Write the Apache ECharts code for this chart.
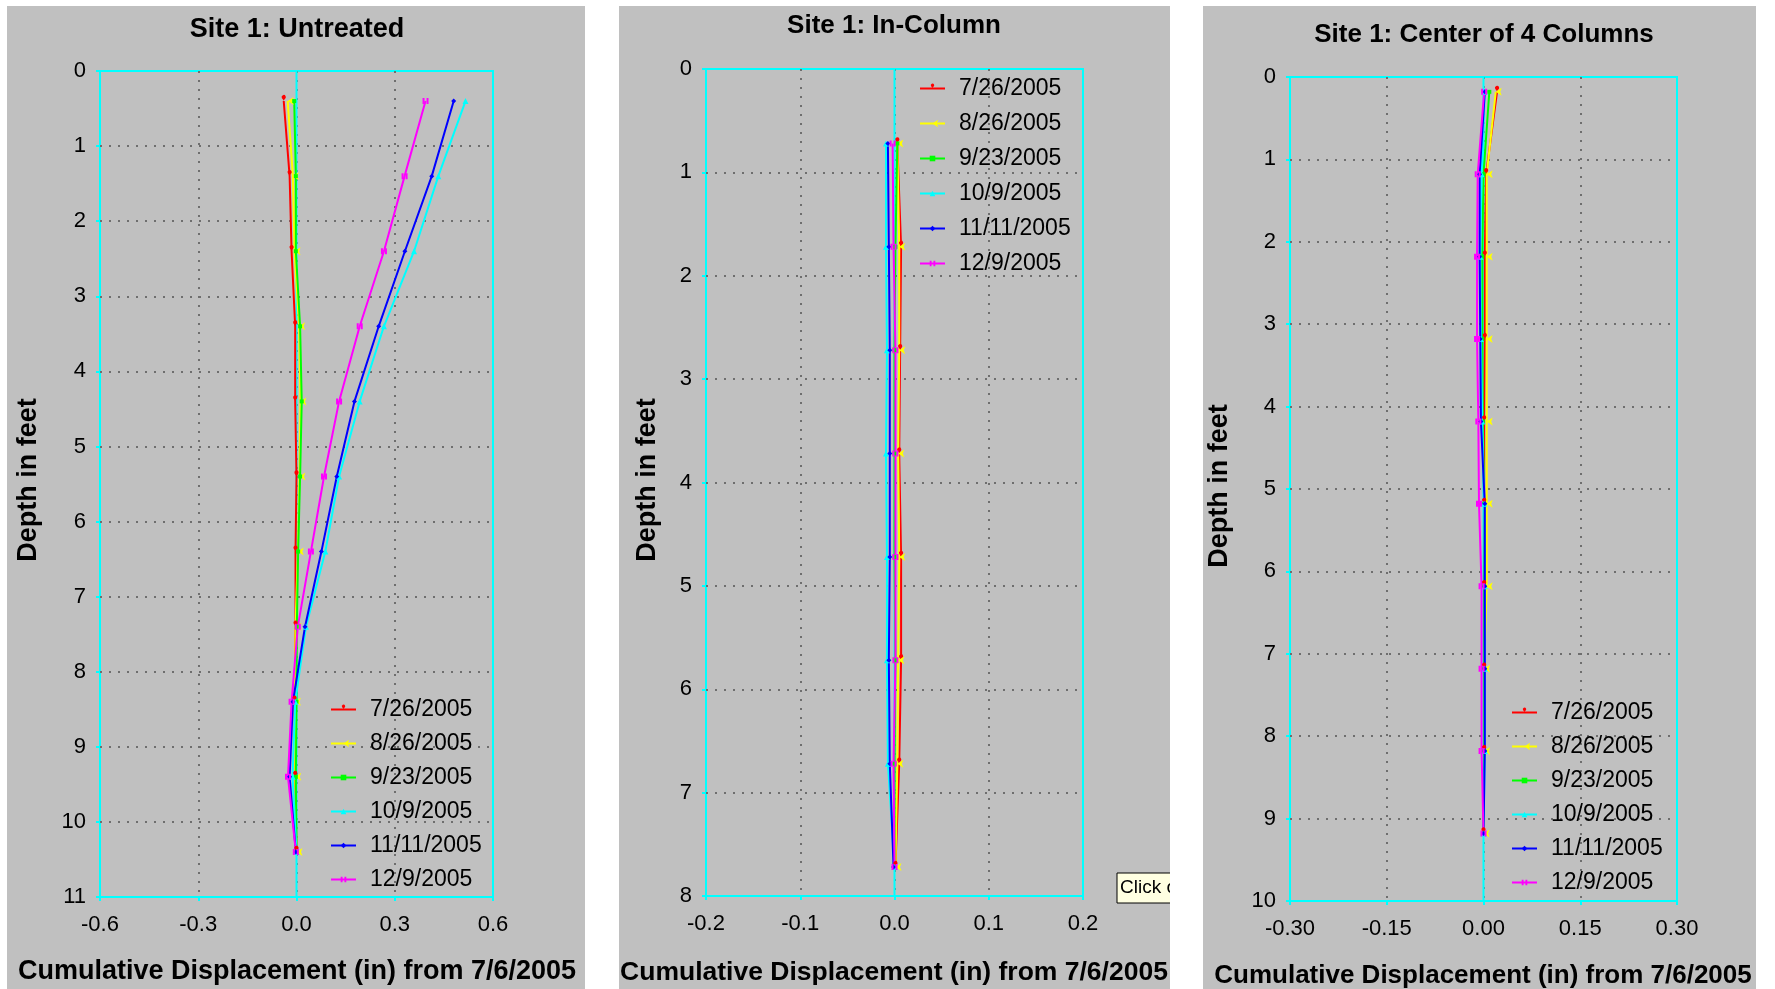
<!DOCTYPE html>
<html>
<head>
<meta charset="utf-8">
<script src="https://cdn.jsdelivr.net/npm/echarts@6/dist/echarts.min.js"></script>
<style>
html,body{margin:0;padding:0;background:#ffffff;}
#c{width:1775px;height:989px;}
</style>
</head>
<body>
<div id="c"></div>
<script>
// ---------------- DATA ----------------
const dates = ['7/26/2005', '8/26/2005', '9/23/2005', '10/9/2005', '11/11/2005', '12/9/2005'];
const colors = ['#ff0000', '#ffff00', '#00ff00', '#00ffff', '#0000ff', '#ff00ff'];

const panelTitles = ['Site 1: Untreated', 'Site 1: In-Column', 'Site 1: Center of 4 Columns'];
const xAxisTitle = 'Cumulative Displacement (in) from 7/6/2005';
const yAxisTitle = 'Depth in feet';

// Panel 1: Untreated
const depthUntreated = [0.4, 1.4, 2.4, 3.4, 4.4, 5.4, 6.4, 7.4, 8.4, 9.4, 10.4];
const untreated0726 = [-0.039, -0.021, -0.015, -0.004, -0.004, 0.000, -0.003, -0.003, -0.006, -0.004, 0.000];
const untreated0826 = [-0.027, -0.011, -0.006, 0.008, 0.012, 0.009, 0.004, -0.003, -0.005, -0.004, 0.000];
const untreated0923 = [-0.007, -0.002, -0.002, 0.011, 0.016, 0.011, 0.005, 0.001, 0.000, -0.002, 0.000];
const untreated1009 = [0.516, 0.433, 0.359, 0.267, 0.193, 0.130, 0.088, 0.029, -0.004, -0.012, 0.000];
const untreated1111 = [0.480, 0.413, 0.331, 0.251, 0.177, 0.123, 0.076, 0.026, -0.011, -0.021, -0.002];
const untreated1209 = [0.394, 0.330, 0.267, 0.193, 0.130, 0.084, 0.044, 0.004, -0.015, -0.026, -0.002];

// Panel 2: In-Column
const depthInColumn = [0.72, 1.72, 2.72, 3.72, 4.72, 5.72, 6.72, 7.72];
const inColumn0726 = [0.003, 0.007, 0.006, 0.005, 0.007, 0.007, 0.005, 0.001];
const inColumn0826 = [0.003, 0.005, 0.005, 0.004, 0.005, 0.004, 0.003, 0.001];
const inColumn0923 = [0.003, 0.001, 0.000, 0.000, 0.000, 0.001, 0.000, 0.000];
const inColumn1009 = [-0.009, -0.009, -0.008, -0.009, -0.008, -0.008, -0.007, 0.000];
const inColumn1111 = [-0.007, -0.006, -0.005, -0.005, -0.005, -0.006, -0.005, -0.001];
const inColumn1209 = [-0.002, -0.001, 0.001, 0.001, 0.001, 0.001, -0.001, 0.000];

// Panel 3: Center of 4 Columns
const depthCenter = [0.18, 1.18, 2.18, 3.18, 4.18, 5.18, 6.18, 7.18, 8.18, 9.18];
const center0726 = [0.021, 0.004, 0.002, 0.002, 0.001, 0.001, 0.001, 0.001, 0.001, 0.000];
const center0826 = [0.019, 0.005, 0.005, 0.005, 0.005, 0.005, 0.005, 0.001, 0.001, 0.000];
const center0923 = [0.009, 0.000, -0.002, -0.002, -0.001, 0.001, 0.001, 0.001, 0.001, 0.000];
const center1009 = [0.002, -0.003, -0.005, -0.004, -0.002, 0.001, 0.002, 0.002, 0.002, 0.000];
const center1111 = [0.002, -0.006, -0.006, -0.005, -0.004, 0.002, 0.002, 0.002, 0.002, 0.000];
const center1209 = [0.001, -0.009, -0.010, -0.010, -0.008, -0.007, -0.003, -0.003, -0.003, 0.000];

// Axis scales (ticks)
const xMin = [-0.6, -0.2, -0.30];
const xMax = [0.6, 0.2, 0.30];
const xInterval = [0.3, 0.1, 0.15];
const xDecimals = [1, 1, 2];
const yMax = [11, 8, 10];
const yInterval = [1, 1, 1];

// ---------------- LAYOUT ----------------
const FONT = '"Liberation Sans", Arial, sans-serif';
const panelBg = [[7, 6, 578, 983], [619, 6, 551, 983], [1203, 6, 553, 983]];
const grids = [
  {left: 100, top: 71, width: 393, height: 826},
  {left: 706, top: 69, width: 377, height: 827},
  {left: 1290, top: 77, width: 387, height: 824}
];
const titlePos = [[297, 30], [894, 26], [1484, 35]];
const titleSize = [27, 26, 26];
const xTitlePos = [[297, 972], [894, 973], [1483, 976]];
const xTitleSize = [27, 26.5, 26];
const yTitlePos = [[29, 480], [648, 480], [1220, 486]];
const legendPos = [[330, 698], [919, 77], [1511, 701]];
const legendGap = [11, 12, 11];

const symbols = ['pin', 'arrow', 'rect', 'triangle', 'diamond', 'path://M0,0h3v10h-3z M6,0h3v10h-3z'];
const symbolRot = [0, 90, 0, 0, 0, 0];
const symbolSz = [7, 6, 4, 6, 5, 6];

const panels = [
  {depth: depthUntreated, values: [untreated0726, untreated0826, untreated0923, untreated1009, untreated1111, untreated1209]},
  {depth: depthInColumn, values: [inColumn0726, inColumn0826, inColumn0923, inColumn1009, inColumn1111, inColumn1209]},
  {depth: depthCenter, values: [center0726, center0826, center0923, center1009, center1111, center1209]}
];

const gridOpt = grids.map(g => Object.assign({}, g, {
  show: true, borderColor: '#00ffff', borderWidth: 2, backgroundColor: 'transparent', containLabel: false
}));

const splitStyle = {color: '#6e6e6e', width: 2, type: [2, 7]};

const xAxes = panels.map((p, i) => ({
  gridIndex: i, type: 'value', min: xMin[i], max: xMax[i], interval: xInterval[i],
  position: 'bottom',
  axisLine: {show: false, onZero: false},
  axisTick: {show: true, length: 4, lineStyle: {color: '#00ffff', width: 2}},
  axisLabel: {
    margin: 17, fontSize: 22, color: '#000', fontFamily: FONT,
    formatter: v => (Math.abs(v) < 1e-9 ? 0 : v).toFixed(xDecimals[i])
  },
  splitLine: {show: true, showMinLine: false, showMaxLine: false, lineStyle: splitStyle}
}));

const yAxes = panels.map((p, i) => ({
  gridIndex: i, type: 'value', min: 0, max: yMax[i], interval: yInterval[i], inverse: true,
  position: 'left',
  axisLine: {show: false, onZero: false},
  axisTick: {show: true, length: 4, lineStyle: {color: '#00ffff', width: 2}},
  axisLabel: {margin: 14, fontSize: 22, color: '#000', fontFamily: FONT},
  splitLine: {show: true, showMinLine: false, showMaxLine: false, lineStyle: splitStyle}
}));

const series = [];
panels.forEach((p, i) => {
  // zero reference line (x = 0), drawn below data
  series.push({
    name: 'zero' + i, type: 'line', xAxisIndex: i, yAxisIndex: i, silent: true,
    data: [[0, 0], [0, yMax[i]]], showSymbol: false, symbol: 'none',
    lineStyle: {color: '#00ffff', width: 2}, z: 1, animation: false
  });
  p.values.forEach((vals, j) => {
    series.push({
      name: dates[j], type: 'line', xAxisIndex: i, yAxisIndex: i,
      data: p.depth.map((d, k) => [vals[k], d]),
      symbol: symbols[j], symbolSize: symbolSz[j], symbolRotate: symbolRot[j], showSymbol: true,
      lineStyle: {color: colors[j], width: 2},
      itemStyle: {color: colors[j]},
      z: 2, animation: false
    });
  });
});

const legends = panels.map((p, i) => ({
  data: dates, orient: 'vertical', left: legendPos[i][0], top: legendPos[i][1],
  itemWidth: 25, itemHeight: 7, itemGap: legendGap[i], selectedMode: false,
  padding: 0,
  textStyle: {fontSize: 23, lineHeight: 23, color: '#000', fontFamily: FONT, padding: [0, 0, 0, 9]}
}));

const graphics = [];
panelBg.forEach(b => graphics.push({
  type: 'rect', z: -10, silent: true,
  shape: {x: b[0], y: b[1], width: b[2], height: b[3]},
  style: {fill: '#c0c0c0'}
}));
panelTitles.forEach((t, i) => graphics.push({
  type: 'text', z: 10, x: titlePos[i][0], y: titlePos[i][1], silent: true,
  style: {text: t, font: 'bold ' + titleSize[i] + 'px ' + FONT, fill: '#000', textAlign: 'center', textVerticalAlign: 'middle'}
}));
panelTitles.forEach((t, i) => graphics.push({
  type: 'text', z: 10, x: xTitlePos[i][0], y: xTitlePos[i][1], silent: true,
  style: {text: xAxisTitle, font: 'bold ' + xTitleSize[i] + 'px ' + FONT, fill: '#000', textAlign: 'center', textVerticalAlign: 'middle'}
}));
panelTitles.forEach((t, i) => graphics.push({
  type: 'text', z: 10, x: yTitlePos[i][0], y: yTitlePos[i][1], rotation: Math.PI / 2, silent: true,
  style: {text: yAxisTitle, font: 'bold 27px ' + FONT, fill: '#000', textAlign: 'center', textVerticalAlign: 'middle'}
}));
// tooltip remnant box in panel 2
graphics.push({
  type: 'rect', z: 20, silent: true,
  shape: {x: 1117, y: 873, width: 60, height: 30},
  style: {fill: '#ffffe1', stroke: '#000', lineWidth: 1}
});
graphics.push({
  type: 'text', z: 21, x: 1120, y: 888, silent: true,
  style: {text: 'Click on', font: '19px ' + FONT, fill: '#000', textAlign: 'left', textVerticalAlign: 'middle'}
});
graphics.push({
  type: 'rect', z: 22, silent: true,
  shape: {x: 1170, y: 860, width: 33, height: 60},
  style: {fill: '#ffffff'}
});

const chart = echarts.init(document.getElementById('c'), null, {renderer: 'canvas'});
chart.setOption({
  animation: false,
  backgroundColor: '#ffffff',
  grid: gridOpt,
  xAxis: xAxes,
  yAxis: yAxes,
  legend: legends,
  series: series,
  graphic: graphics
});
</script>
</body>
</html>
